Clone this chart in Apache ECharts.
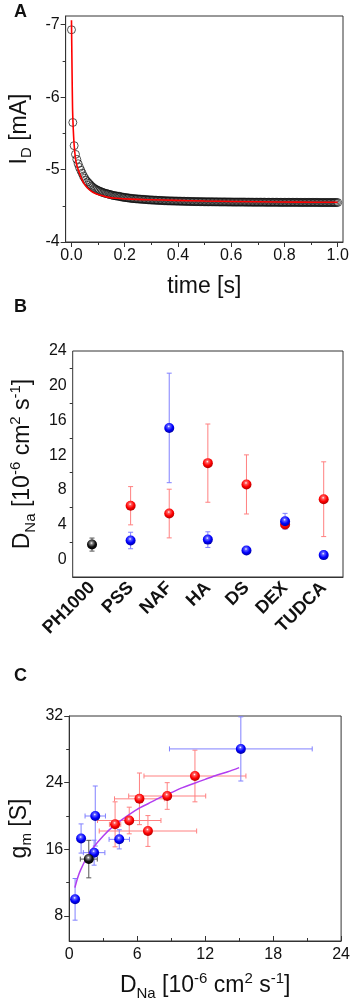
<!DOCTYPE html>
<html>
<head>
<meta charset="utf-8">
<script src="https://cdn.jsdelivr.net/npm/echarts@6/dist/echarts.min.js"></script>
<style>
  html, body { margin: 0; padding: 0; background: #fff; }
  #main { width: 353px; height: 1005px; }
</style>
</head>
<body>
<div id="main"></div>
<script>
// ---- panel A : drain current transient (one sample every 5 ms) ----
var timeS = [
  0, 0.005, 0.01, 0.015, 0.02, 0.025, 0.03, 0.035, 0.04, 0.045,
  0.05, 0.055, 0.06, 0.065, 0.07, 0.075, 0.08, 0.085, 0.09, 0.095,
  0.1, 0.105, 0.11, 0.115, 0.12, 0.125, 0.13, 0.135, 0.14, 0.145,
  0.15, 0.155, 0.16, 0.165, 0.17, 0.175, 0.18, 0.185, 0.19, 0.195,
  0.2, 0.205, 0.21, 0.215, 0.22, 0.225, 0.23, 0.235, 0.24, 0.245,
  0.25, 0.255, 0.26, 0.265, 0.27, 0.275, 0.28, 0.285, 0.29, 0.295,
  0.3, 0.305, 0.31, 0.315, 0.32, 0.325, 0.33, 0.335, 0.34, 0.345,
  0.35, 0.355, 0.36, 0.365, 0.37, 0.375, 0.38, 0.385, 0.39, 0.395,
  0.4, 0.405, 0.41, 0.415, 0.42, 0.425, 0.43, 0.435, 0.44, 0.445,
  0.45, 0.455, 0.46, 0.465, 0.47, 0.475, 0.48, 0.485, 0.49, 0.495,
  0.5, 0.505, 0.51, 0.515, 0.52, 0.525, 0.53, 0.535, 0.54, 0.545,
  0.55, 0.555, 0.56, 0.565, 0.57, 0.575, 0.58, 0.585, 0.59, 0.595,
  0.6, 0.605, 0.61, 0.615, 0.62, 0.625, 0.63, 0.635, 0.64, 0.645,
  0.65, 0.655, 0.66, 0.665, 0.67, 0.675, 0.68, 0.685, 0.69, 0.695,
  0.7, 0.705, 0.71, 0.715, 0.72, 0.725, 0.73, 0.735, 0.74, 0.745,
  0.75, 0.755, 0.76, 0.765, 0.77, 0.775, 0.78, 0.785, 0.79, 0.795,
  0.8, 0.805, 0.81, 0.815, 0.82, 0.825, 0.83, 0.835, 0.84, 0.845,
  0.85, 0.855, 0.86, 0.865, 0.87, 0.875, 0.88, 0.885, 0.89, 0.895,
  0.9, 0.905, 0.91, 0.915, 0.92, 0.925, 0.93, 0.935, 0.94, 0.945,
  0.95, 0.955, 0.96, 0.965, 0.97, 0.975, 0.98, 0.985, 0.99, 0.995,
  1.0
];
var currentMA = [
  -6.93, -5.65, -5.33, -5.21, -5.14, -5.08, -5.03, -4.99, -4.95, -4.91,
  -4.88, -4.85, -4.83, -4.81, -4.79, -4.77, -4.755, -4.74, -4.73, -4.72,
  -4.71, -4.703, -4.695, -4.688, -4.68, -4.675, -4.67, -4.665, -4.66, -4.655,
  -4.65, -4.645, -4.64, -4.638, -4.635, -4.632, -4.63, -4.625, -4.62, -4.618,
  -4.615, -4.612, -4.61, -4.608, -4.605, -4.602, -4.6, -4.598, -4.597, -4.595,
  -4.594, -4.592, -4.591, -4.59, -4.588, -4.587, -4.585, -4.584, -4.582, -4.581,
  -4.58, -4.579, -4.578, -4.577, -4.576, -4.575, -4.574, -4.573, -4.572, -4.571,
  -4.57, -4.569, -4.568, -4.568, -4.567, -4.567, -4.566, -4.566, -4.565, -4.565,
  -4.564, -4.564, -4.563, -4.563, -4.562, -4.562, -4.561, -4.561, -4.56, -4.56,
  -4.559, -4.559, -4.558, -4.558, -4.558, -4.557, -4.557, -4.557, -4.556, -4.556,
  -4.556, -4.555, -4.555, -4.555, -4.555, -4.555, -4.555, -4.554, -4.554, -4.554,
  -4.554, -4.553, -4.553, -4.553, -4.553, -4.553, -4.553, -4.552, -4.552, -4.552,
  -4.552, -4.551, -4.551, -4.551, -4.551, -4.551, -4.551, -4.551, -4.551, -4.551,
  -4.551, -4.55, -4.55, -4.55, -4.55, -4.55, -4.549, -4.549, -4.549, -4.549,
  -4.549, -4.549, -4.549, -4.549, -4.549, -4.549, -4.548, -4.548, -4.548, -4.548,
  -4.548, -4.548, -4.548, -4.548, -4.548, -4.548, -4.547, -4.547, -4.547, -4.547,
  -4.547, -4.547, -4.547, -4.547, -4.547, -4.547, -4.547, -4.547, -4.547, -4.547,
  -4.547, -4.546, -4.546, -4.546, -4.546, -4.546, -4.546, -4.546, -4.546, -4.546,
  -4.546, -4.546, -4.546, -4.546, -4.546, -4.546, -4.545, -4.545, -4.545, -4.545,
  -4.545, -4.545, -4.545, -4.545, -4.545, -4.545, -4.545, -4.545, -4.545, -4.545,
  -4.545
];
// fitted curve (red)
var fitTimeS = [0, 0.002, 0.004, 0.006, 0.008, 0.01, 0.013, 0.016, 0.02, 0.026, 0.035, 0.045,
  0.059, 0.075, 0.09, 0.11, 0.134, 0.17, 0.22, 0.3, 0.39, 0.5, 0.7, 0.85, 1.0];
var fitCurrentMA = [-7.06, -6.4, -5.85, -5.62, -5.46, -5.34, -5.22, -5.13, -5.06, -4.99, -4.9, -4.82,
  -4.75, -4.7, -4.67, -4.645, -4.62, -4.603, -4.592, -4.583, -4.575, -4.565, -4.555, -4.55, -4.548];

// ---- panel B / C : materials ----
var materials = ['PH1000', 'PSS', 'NAF', 'HA', 'DS', 'DEX', 'TUDCA'];
var blendIdx = [1, 2, 3, 4, 5, 6];   // PSS .. TUDCA

var pristineD = [1.73], pristineDErr = [0.75];
var pristineGm = [14.83], pristineGmErr = [2.25];

// red set
var redD = [6.2, 5.3, 11.1, 8.65, 4.05, 6.95];
var redDErr = [2.2, 2.8, 4.5, 3.4, 0.5, 4.3];
var redGm = [22.06, 19.46, 24.8, 22.4, 19.0, 18.2];
var redGmErr = [3.1, 1.6, 3.1, 1.6, 2.7, 1.85];

// blue set
var blueD = [2.2, 15.15, 2.3, 1.05, 4.42, 0.52];
var blueDErr = [0.95, 6.3, 0.9, 0.2, 0.9, 0.15];
var blueGm = [15.6, 28.05, 20.0, 17.3, 17.2, 10.0];
var blueGmErr = [1.5, 3.85, 3.6, 1.75, 1.15, 2.5];

// fit line panel C (purple)
var fitD = [0.5, 0.75, 1, 1.5, 2, 3, 4, 5, 6, 7, 8, 9, 10, 11, 12, 13, 14, 15];
var fitGm = [11.4, 12.6, 13.5, 14.9, 16.0, 17.6, 18.9, 19.9, 20.8, 21.5, 22.2, 22.8, 23.4, 23.9, 24.4, 24.9, 25.3, 25.8];

var FONT = 'Arial, "Liberation Sans", sans-serif';
var AX = '#333';

function ball(light, base, dark) {
  return {
    type: 'radial', x: 0.45, y: 0.35, r: 0.65,
    colorStops: [
      { offset: 0, color: '#ffffff' },
      { offset: 0.2, color: light },
      { offset: 0.6, color: base },
      { offset: 1, color: dark }
    ]
  };
}

var richTitle = {
  n: { fontSize: 23, lineHeight: 30, fontFamily: FONT, color: '#111' },
  sub: { fontSize: 15, lineHeight: 15, verticalAlign: 'bottom', fontFamily: FONT, color: '#111' },
  sup: { fontSize: 15, lineHeight: 15, verticalAlign: 'top', fontFamily: FONT, color: '#111' }
};
var dnaName = '{n|D}{sub|Na}{n| [10}{sup|-6}{n| cm}{sup|2}{n| s}{sup|-1}{n|]}';

function zip(a, b) {
  return a.map(function (v, i) { return [v, b[i]]; });
}

// vertical error bars for category axis
function vErr(color) {
  return function (params, api) {
    var lo = api.coord([api.value(0), api.value(1)]);
    var hi = api.coord([api.value(0), api.value(2)]);
    var c = 2.5;
    var st = { stroke: color, lineWidth: 1 };
    return { type: 'group', children: [
      { type: 'line', shape: { x1: lo[0], y1: lo[1], x2: hi[0], y2: hi[1] }, style: st },
      { type: 'line', shape: { x1: lo[0] - c, y1: lo[1], x2: lo[0] + c, y2: lo[1] }, style: st },
      { type: 'line', shape: { x1: hi[0] - c, y1: hi[1], x2: hi[0] + c, y2: hi[1] }, style: st }
    ] };
  };
}

// x and y error bars
function xyErr(color) {
  return function (params, api) {
    var x = api.value(0), y = api.value(1);
    var xl = api.coord([api.value(2), y]), xh = api.coord([api.value(3), y]);
    var yl = api.coord([x, api.value(4)]), yh = api.coord([x, api.value(5)]);
    var c = 2.5;
    var st = { stroke: color, lineWidth: 1 };
    return { type: 'group', children: [
      { type: 'line', shape: { x1: xl[0], y1: xl[1], x2: xh[0], y2: xh[1] }, style: st },
      { type: 'line', shape: { x1: xl[0], y1: xl[1] - c, x2: xl[0], y2: xl[1] + c }, style: st },
      { type: 'line', shape: { x1: xh[0], y1: xh[1] - c, x2: xh[0], y2: xh[1] + c }, style: st },
      { type: 'line', shape: { x1: yl[0], y1: yl[1], x2: yh[0], y2: yh[1] }, style: st },
      { type: 'line', shape: { x1: yl[0] - c, y1: yl[1], x2: yl[0] + c, y2: yl[1] }, style: st },
      { type: 'line', shape: { x1: yh[0] - c, y1: yh[1], x2: yh[0] + c, y2: yh[1] }, style: st }
    ] };
  };
}

var redBall = ball('#ff6060', '#ff0000', '#b00000');
var blueBall = ball('#6060ff', '#0000ff', '#0000a0');
var blackBall = ball('#888888', '#111111', '#000000');

// data for panel B
var bRed = blendIdx.map(function (c, i) { return [c, redD[i]]; });
var bBlue = blendIdx.map(function (c, i) { return [c, blueD[i]]; });
var bBlack = [[0, pristineD[0]]];
var bRedErr = blendIdx.map(function (c, i) { return [c, redD[i] - redDErr[i], redD[i] + redDErr[i]]; });
var bBlueErr = blendIdx.map(function (c, i) { return [c, blueD[i] - blueDErr[i], blueD[i] + blueDErr[i]]; });
var bBlackErr = [[0, pristineD[0] - pristineDErr[0], pristineD[0] + pristineDErr[0]]];

// data for panel C
function xyRows(d, de, g, ge) {
  return d.map(function (v, i) {
    return [v, g[i], v - de[i], v + de[i], g[i] - ge[i], g[i] + ge[i]];
  });
}
var cRedErr = xyRows(redD, redDErr, redGm, redGmErr);
var cBlueErr = xyRows(blueD, blueDErr, blueGm, blueGmErr);
var cBlackErr = xyRows(pristineD, pristineDErr, pristineGm, pristineGmErr);

var tickLabel = { fontSize: 16, color: '#111', fontFamily: FONT };

function minorAxis(grid, customs, extra) {
  var ax = {
    gridIndex: grid, type: 'value',
    axisLine: { show: false, onZero: false },
    axisLabel: { show: false },
    splitLine: { show: false },
    axisTick: { show: true, length: 3, customValues: customs, lineStyle: { color: AX } }
  };
  for (var k in extra) ax[k] = extra[k];
  return ax;
}

var chart = echarts.init(document.getElementById('main'));
chart.setOption({
  animation: false,
  backgroundColor: '#fff',
  title: [
    { text: 'A', left: 14, top: 3, padding: 0, textStyle: { fontSize: 18, fontWeight: 'bold', fontFamily: FONT, color: '#111' } },
    { text: 'B', left: 14, top: 298, padding: 0, textStyle: { fontSize: 18, fontWeight: 'bold', fontFamily: FONT, color: '#111' } },
    { text: 'C', left: 14, top: 667, padding: 0, textStyle: { fontSize: 18, fontWeight: 'bold', fontFamily: FONT, color: '#111' } }
  ],
  grid: [
    { left: 63, top: 16, width: 280, height: 226, show: true, borderColor: AX, borderWidth: 1 },
    { left: 63, top: 351, width: 280, height: 226, show: true, borderColor: AX, borderWidth: 1 },
    { left: 63, top: 716, width: 280, height: 225, show: true, borderColor: AX, borderWidth: 1 }
  ],
  xAxis: [
    {
      gridIndex: 0, type: 'value', min: -0.022, max: 1.02, position: 'bottom',
      axisLine: { onZero: false, lineStyle: { color: AX } },
      axisTick: { length: 5, customValues: [0, 0.2, 0.4, 0.6, 0.8, 1.0], lineStyle: { color: AX } },
      axisLabel: Object.assign({ customValues: [0, 0.2, 0.4, 0.6, 0.8, 1.0], margin: 6,
        formatter: function (v) { return v.toFixed(1); } }, tickLabel),
      splitLine: { show: false },
      name: '{n|time [s]}', nameLocation: 'middle', nameGap: 30,
      nameTextStyle: { rich: richTitle }
    },
    minorAxis(0, [0.1, 0.3, 0.5, 0.7, 0.9], { min: -0.022, max: 1.02, position: 'bottom' }),
    {
      gridIndex: 1, type: 'category', data: materials, boundaryGap: true, position: 'bottom',
      axisLine: { onZero: false, lineStyle: { color: AX } },
      axisTick: { alignWithLabel: true, length: 5, lineStyle: { color: AX } },
      axisLabel: { interval: 0, rotate: 45, margin: 8, fontSize: 18, fontWeight: 'bold', color: '#111', fontFamily: FONT },
      splitLine: { show: false }
    },
    {
      gridIndex: 2, type: 'value', min: 0, max: 24, interval: 6, position: 'bottom',
      axisLine: { onZero: false, lineStyle: { color: AX } },
      axisTick: { inside: true, length: 5, lineStyle: { color: AX } },
      minorTick: { show: true, splitNumber: 2, length: 3, lineStyle: { color: AX } },
      axisLabel: Object.assign({ margin: 6 }, tickLabel),
      splitLine: { show: false },
      name: dnaName, nameLocation: 'middle', nameGap: 30,
      nameTextStyle: { rich: richTitle }
    }
  ],
  yAxis: [
    {
      gridIndex: 0, type: 'value', inverse: true, min: -7.12, max: -4, position: 'left',
      axisLine: { onZero: false, lineStyle: { color: AX } },
      axisTick: { length: 5, customValues: [-7, -6, -5, -4], lineStyle: { color: AX } },
      axisLabel: Object.assign({ customValues: [-7, -6, -5, -4], margin: 6 }, tickLabel),
      splitLine: { show: false },
      name: '{n|I}{sub|D}{n| [mA]}', nameLocation: 'middle', nameGap: 25, nameRotate: 90,
      nameTextStyle: { rich: richTitle }
    },
    minorAxis(0, [-6.5, -5.5, -4.5], { inverse: true, min: -7.12, max: -4, position: 'left' }),
    {
      gridIndex: 1, type: 'value', min: -2, max: 24, position: 'left',
      axisLine: { onZero: false, lineStyle: { color: AX } },
      axisTick: { length: 5, customValues: [0, 4, 8, 12, 16, 20, 24], lineStyle: { color: AX } },
      axisLabel: Object.assign({ customValues: [0, 4, 8, 12, 16, 20, 24], margin: 6 }, tickLabel),
      splitLine: { show: false },
      name: dnaName, nameLocation: 'middle', nameGap: 31, nameRotate: 90,
      nameTextStyle: { rich: richTitle }
    },
    minorAxis(1, [2, 6, 10, 14, 18, 22], { min: -2, max: 24, position: 'left' }),
    {
      gridIndex: 2, type: 'value', min: 5, max: 32, position: 'left',
      axisLine: { onZero: false, lineStyle: { color: AX } },
      axisTick: { length: 5, customValues: [8, 16, 24, 32], lineStyle: { color: AX } },
      axisLabel: Object.assign({ customValues: [8, 16, 24, 32], margin: 6 }, tickLabel),
      splitLine: { show: false },
      name: '{n|g}{sub|m}{n| [S]}', nameLocation: 'middle', nameGap: 27, nameRotate: 90,
      nameTextStyle: { rich: richTitle }
    },
    minorAxis(2, [12, 20, 28], { min: 5, max: 32, position: 'left' })
  ],
  series: [
    // panel A
    {
      type: 'scatter', xAxisIndex: 0, yAxisIndex: 0, z: 2,
      data: zip(timeS, currentMA), symbol: 'circle', symbolSize: 8,
      itemStyle: { color: 'rgba(0,0,0,0)', borderColor: '#111', borderWidth: 0.9 }
    },
    {
      type: 'line', xAxisIndex: 0, yAxisIndex: 0, z: 3,
      data: zip(fitTimeS, fitCurrentMA), smooth: 0.3, showSymbol: false,
      lineStyle: { color: '#ff0000', width: 1.6 }
    },
    // panel B
    { type: 'custom', xAxisIndex: 2, yAxisIndex: 2, z: 2, renderItem: vErr('#ff8080'), data: bRedErr, encode: { x: 0, y: [1, 2] } },
    { type: 'custom', xAxisIndex: 2, yAxisIndex: 2, z: 2, renderItem: vErr('#8080ff'), data: bBlueErr, encode: { x: 0, y: [1, 2] } },
    { type: 'custom', xAxisIndex: 2, yAxisIndex: 2, z: 2, renderItem: vErr('#555555'), data: bBlackErr, encode: { x: 0, y: [1, 2] } },
    { type: 'scatter', xAxisIndex: 2, yAxisIndex: 2, z: 4, data: bRed, symbolSize: 10, itemStyle: { color: redBall, opacity: 1 } },
    { type: 'scatter', xAxisIndex: 2, yAxisIndex: 2, z: 5, data: bBlue, symbolSize: 10, itemStyle: { color: blueBall, opacity: 1 } },
    { type: 'scatter', xAxisIndex: 2, yAxisIndex: 2, z: 5, data: bBlack, symbolSize: 10, itemStyle: { color: blackBall, opacity: 1 } },
    // panel C
    { type: 'custom', xAxisIndex: 3, yAxisIndex: 4, z: 2, renderItem: xyErr('#ff8080'), data: cRedErr, encode: { x: [0, 2, 3], y: [1, 4, 5] } },
    { type: 'custom', xAxisIndex: 3, yAxisIndex: 4, z: 2, renderItem: xyErr('#8080ff'), data: cBlueErr, encode: { x: [0, 2, 3], y: [1, 4, 5] } },
    { type: 'custom', xAxisIndex: 3, yAxisIndex: 4, z: 2, renderItem: xyErr('#555555'), data: cBlackErr, encode: { x: [0, 2, 3], y: [1, 4, 5] } },
    {
      type: 'line', xAxisIndex: 3, yAxisIndex: 4, z: 3,
      data: zip(fitD, fitGm), smooth: 0.3, showSymbol: false,
      lineStyle: { color: '#b23ef0', width: 1.5 }
    },
    { type: 'scatter', xAxisIndex: 3, yAxisIndex: 4, z: 4, data: zip(redD, redGm), symbolSize: 10, itemStyle: { color: redBall, opacity: 1 } },
    { type: 'scatter', xAxisIndex: 3, yAxisIndex: 4, z: 5, data: zip(blueD, blueGm), symbolSize: 10, itemStyle: { color: blueBall, opacity: 1 } },
    { type: 'scatter', xAxisIndex: 3, yAxisIndex: 4, z: 5, data: zip(pristineD, pristineGm), symbolSize: 10, itemStyle: { color: blackBall, opacity: 1 } }
  ]
});
</script>
</body>
</html>
